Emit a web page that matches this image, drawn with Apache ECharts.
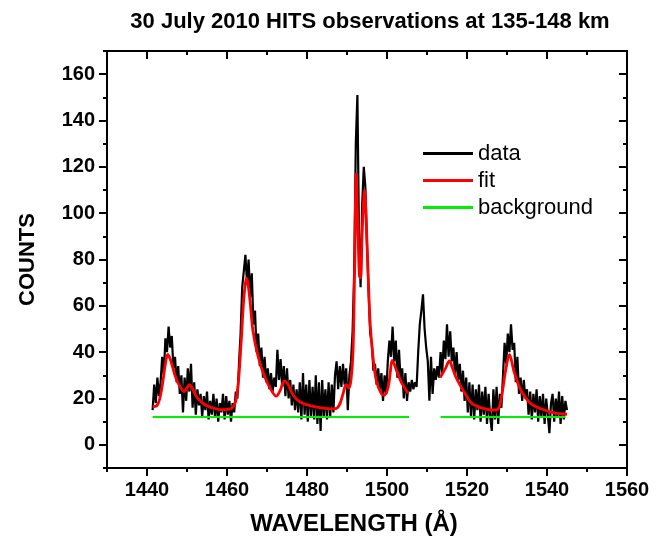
<!DOCTYPE html>
<html>
<head>
<meta charset="utf-8">
<title>HITS observations</title>
<script src="https://cdn.jsdelivr.net/npm/echarts@6/dist/echarts.min.js"></script>
<style>
    html, body {margin: 0; padding: 0; background: #fff;}
    #chart {width: 660px; height: 539px;}
</style>
</head>
<body>
<div id="chart"></div>
<script>
// measured counts, one every 0.4 A starting at 1441.4 A
let dataStart = 1441.4;
let dataStep = 0.4;
let dataCounts = [
    15, 26, 18, 29, 21, 27, 38, 30, 46, 40,
    51, 42, 47, 33, 38, 27, 34, 22, 30, 14,
    29, 19, 33, 23, 35, 16, 27, 13, 24, 17,
    22, 12, 21, 15, 23, 11, 19, 13, 22, 12,
    20, 10, 18, 14, 22, 11, 21, 13, 19, 10,
    18, 14, 23, 20, 35, 48, 68, 75, 82, 70,
    80, 64, 74, 52, 58, 40, 48, 34, 42, 29,
    38, 27, 33, 24, 31, 23, 29, 25, 41, 28,
    37, 25, 34, 21, 33, 20, 28, 17, 26, 15,
    24, 14, 27, 11, 31, 13, 26, 10, 28, 12,
    25, 11, 30, 9, 27, 6, 28, 12, 24, 11,
    27, 12, 26, 14, 30, 36, 24, 34, 25, 35,
    26, 33, 15, 30, 36, 49, 75, 130, 151, 90,
    68, 104, 120, 111, 86, 66, 48, 44, 32, 35,
    26, 33, 24, 31, 19, 30, 22, 36, 45, 38,
    51, 36, 45, 29, 41, 28, 33, 20, 31, 19,
    27, 23, 28, 24, 27, 25, 40, 52, 58, 65,
    50, 42, 36, 19, 38, 22, 33, 28, 34, 29,
    40, 31, 45, 37, 52, 38, 49, 36, 42, 30,
    40, 28, 35, 23, 32, 19, 29, 14, 27, 12,
    26, 11, 24, 15, 26, 10, 23, 13, 25, 9,
    22, 12, 6, 24, 11, 25, 9, 22, 16, 30,
    44, 35, 48, 40, 52, 41, 44, 27, 38, 22,
    29, 19, 28, 20, 24, 13, 23, 11, 22, 14,
    24, 10, 21, 12, 22, 9, 20, 13, 5, 18,
    22, 10, 20, 12, 23, 9, 21, 11, 19, 15
];

// fitted profile, two separate fit windows
let fitWave1 = [1441.4, 1442.5, 1443.2, 1443.9, 1444.6, 1445.2, 1445.8, 1446.4, 1447.2, 1448.1,
    1449.3, 1450.0, 1450.6, 1451.3, 1452.3, 1453.3, 1454.3, 1455.5, 1456.8, 1458.2,
    1459.5, 1460.8, 1461.5, 1462.2, 1462.8, 1463.6, 1464.2, 1464.9, 1465.7, 1466.5,
    1467.8, 1469.4, 1471.1, 1472.3, 1473.3, 1474.3, 1475.3, 1476.5, 1478.3, 1480.5,
    1483.5, 1486.5, 1487.6, 1488.4, 1489.0, 1489.8, 1490.5, 1491.0, 1491.5, 1491.9,
    1492.3, 1492.7, 1493.1, 1493.4, 1493.8, 1494.4, 1494.9, 1495.4, 1495.8, 1496.5,
    1497.3, 1498.6, 1499.4, 1500.3, 1500.8, 1501.3, 1502.4, 1503.6, 1505.3];
let fitCounts1 = [16.5, 17, 20, 26.5, 35, 39, 37, 33.6, 29, 25.6,
    23, 24.5, 26, 24.5, 21, 19, 17.5, 16.5, 15.8, 15.2,
    15.2, 15.5, 16.3, 19, 26, 46, 63, 72, 63, 49,
    38, 29.5, 23.5, 21, 23.5, 27.5, 26, 21.5, 18.5, 17,
    16, 15.5, 16, 18.5, 22, 26, 24.5, 28, 40, 75,
    117, 95, 73, 72, 92, 110, 92, 68, 52, 38,
    28, 22, 21.5, 25, 31, 36.5, 32, 27, 22.3];
let fitWave2 = [1513.3, 1514.6, 1515.6, 1516.4, 1517.3, 1518.5, 1519.8, 1521.0, 1522.6, 1524.3,
    1526.2, 1527.6, 1528.2, 1528.9, 1529.8, 1530.6, 1531.8, 1533.5, 1536.0, 1538.5,
    1541.8, 1545.0];
let fitCounts2 = [29, 33, 36.2, 33, 29, 25, 21.3, 18.2, 16.6, 15.6,
    15, 15.2, 17, 23.5, 33.6, 38.9, 31.4, 23.5, 17.7, 15.6,
    13.8, 13.2];

// background level under each fit window
let bgWave = [[1441.4, 1505.5], [1513.4, 1544.6]];
let bgLevel = 12;

let xTicks = [1440, 1460, 1480, 1500, 1520, 1540, 1560];
let yTicks = [0, 20, 40, 60, 80, 100, 120, 140, 160];

let font = 'Liberation Sans, Arial, Helvetica, sans-serif';

function pairs(xs, ys) {
    return xs.map(function (x, i) { return [x, ys[i]]; });
}

let dataSeries = dataCounts.map(function (c, i) {
    return [+(dataStart + i * dataStep).toFixed(1), c];
});
let fitSeries = pairs(fitWave1, fitCounts1).concat([[1509, '-']], pairs(fitWave2, fitCounts2));
let bgSeries = [];
bgWave.forEach(function (seg, i) {
    if (i > 0) bgSeries.push([(bgWave[i - 1][1] + seg[0]) / 2, '-']);
    bgSeries.push([seg[0], bgLevel], [seg[1], bgLevel]);
});

// each side gets two axes: one for the minor ticks, one for major ticks + labels
function makeAxis(pos, min, max, major, isMajor, inside, showLabel, extra) {
    let ax = {
        type: 'value',
        position: pos,
        min: min,
        max: max,
        interval: 10,
        splitLine: {show: false},
        axisLine: {show: true, onZero: false, lineStyle: {color: '#000', width: 2}},
        axisTick: {show: true, inside: inside, length: isMajor ? 8 : 4, lineStyle: {color: '#000', width: 2}},
        axisLabel: {show: false}
    };
    if (isMajor) ax.axisTick.customValues = major;
    if (showLabel) {
        ax.axisLabel = {
            show: true, customValues: major, color: '#000', fontSize: 20,
            fontWeight: 'bold', fontFamily: font, margin: 12,
            formatter: function (v) { return String(v); }
        };
    }
    return Object.assign(ax, extra || {});
}

let chart = echarts.init(document.getElementById('chart'));

let option = {
    animation: false,
    backgroundColor: '#fff',
    title: {
        text: '30 July 2010 HITS observations at 135-148 km',
        left: 365,
        textAlign: 'center',
        top: 6,
        textStyle: {fontSize: 22, fontWeight: 'bold', color: '#000', fontFamily: font}
    },
    legend: {
        orient: 'vertical',
        left: 423,
        top: 142.5,
        padding: 0,
        icon: 'rect',
        itemWidth: 50,
        itemHeight: 3,
        itemGap: 5,
        data: ['data', 'fit', 'background'],
        textStyle: {fontSize: 22, color: '#000', fontFamily: font}
    },
    grid: {left: 107, right: 33, top: 51, bottom: 71, outerBoundsMode: 'none'},
    xAxis: [
        makeAxis('bottom', 1430, 1560, xTicks, true, false, true, {
            name: 'WAVELENGTH (\u00c5)',
            nameLocation: 'middle',
            nameGap: 44,
            nameTextStyle: {fontSize: 24, fontWeight: 'bold', color: '#000', fontFamily: font, padding: [0, 26, 0, 0]}
        }),
        makeAxis('bottom', 1430, 1560, xTicks, false, false, false),
        makeAxis('top', 1430, 1560, xTicks, true, true, false),
        makeAxis('top', 1430, 1560, xTicks, false, true, false)
    ],
    yAxis: [
        makeAxis('left', -10, 170, yTicks, true, false, true, {
            name: 'COUNTS',
            nameLocation: 'middle',
            nameGap: 68,
            nameTextStyle: {fontSize: 22, fontWeight: 'bold', color: '#000', fontFamily: font}
        }),
        makeAxis('left', -10, 170, yTicks, false, false, false),
        makeAxis('right', -10, 170, yTicks, true, true, false),
        makeAxis('right', -10, 170, yTicks, false, true, false)
    ],
    series: [
        {
            name: 'data',
            type: 'line',
            data: dataSeries,
            symbol: 'none',
            lineStyle: {color: '#000', width: 2.2},
            itemStyle: {color: '#000'}
        },
        {
            name: 'fit',
            type: 'line',
            data: fitSeries,
            symbol: 'none',
            smooth: 0.35,
            lineStyle: {color: '#ff0000', width: 2.8},
            itemStyle: {color: '#ff0000'}
        },
        {
            name: 'background',
            type: 'line',
            data: bgSeries,
            symbol: 'none',
            lineStyle: {color: '#00ee00', width: 2},
            itemStyle: {color: '#00ee00'}
        }
    ]
};

chart.setOption(option);
</script>
</body>
</html>
